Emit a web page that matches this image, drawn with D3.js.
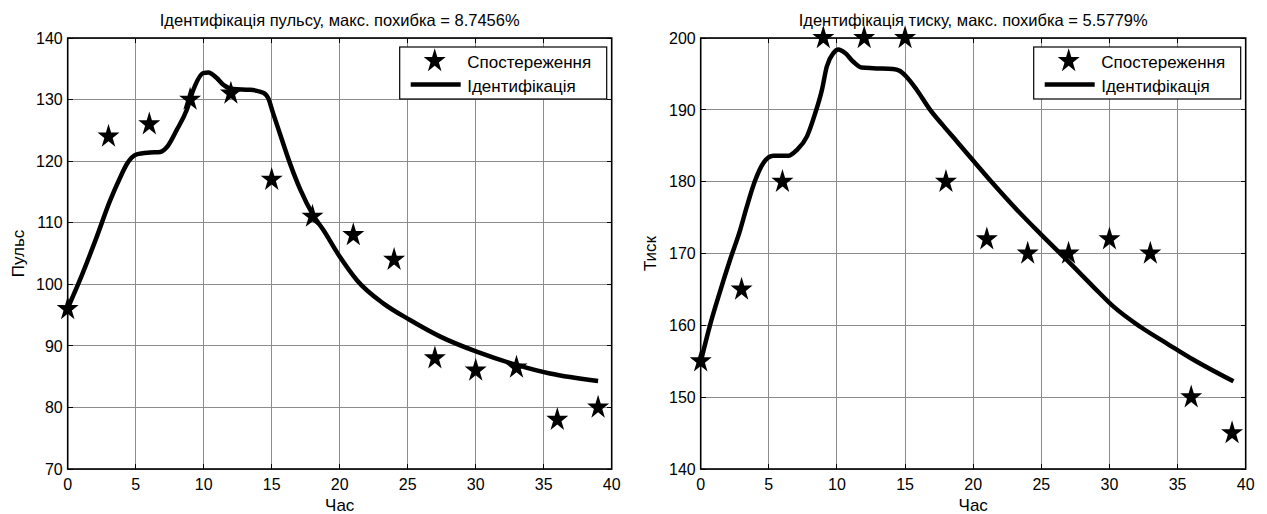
<!DOCTYPE html>
<html>
<head>
<meta charset="utf-8">
<script src="https://cdn.jsdelivr.net/npm/d3@7"></script>
<style>
  html, body { margin: 0; padding: 0; background: #fff; }
  svg { display: block; }
  text { font-family: "Liberation Sans", Arial, sans-serif; fill: #000; }
</style>
</head>
<body>
<svg id="chart" width="1267" height="514"></svg>
<script>
// Observation times (hours)
const hours = [0, 3, 6, 9, 12, 15, 18, 21, 24, 27, 30, 33, 36, 39];

// Measured pulse and pressure
const pulseObserved    = [96, 124, 126, 130, 131, 117, 111, 108, 104, 88, 86, 86.5, 78, 80];
const pressureObserved = [155, 165, 180, 200, 200, 200, 180, 172, 170, 170, 172, 170, 150, 145];

// Identified model response, pulse
const pulseModelTime = [0, 0.9, 2.1, 3.1, 3.85, 4.34, 5.07, 6.05, 6.8, 7.3, 8.0, 8.75, 9.24, 9.97,
  10.34, 10.96, 11.44, 12.18, 13.4, 14.38, 14.75, 15.1, 15.6, 16.35, 17.08, 18.06, 18.8, 20.0,
  21.25, 23.2, 25.17, 27.4, 30.07, 33.0, 35.46, 39.0];
const pulseModel = [96.1, 100.7, 107.5, 113.5, 117.3, 119.5, 121.1, 121.4, 121.5, 122.3, 125, 128.3,
  131.6, 134.3, 134.4, 133.5, 132.4, 131.7, 131.6, 131.1, 130.2, 127.8, 124.5, 119.6, 115.5, 111.2,
  108.8, 104.5, 100.7, 96.9, 94.2, 91.5, 89.05, 86.9, 85.5, 84.3];

// Identified model response, pressure
const pressureModelTime = [0, 0.68, 1.4, 2.15, 2.9, 3.38, 4.0, 4.6, 5.33, 6.43, 7.05, 7.8, 8.4, 8.9,
  9.25, 9.74, 10.1, 10.6, 11.2, 11.8, 12.66, 14.1, 14.63, 15.1, 15.85, 16.8, 17.8, 18.8, 21.24,
  23.2, 24.9, 26.87, 28.8, 30.3, 32.26, 34.2, 36.17, 39.1];
const pressureModel = [154.9, 160.0, 164.6, 169.1, 173.3, 176.5, 180.2, 182.6, 183.6, 183.6, 184.4,
  186.3, 189.5, 192.8, 196.0, 197.9, 198.4, 197.9, 196.7, 195.9, 195.8, 195.7, 195.4, 194.6, 192.8,
  190.1, 187.8, 185.6, 180.2, 176.1, 172.8, 169.1, 165.4, 162.6, 159.8, 157.5, 155.2, 152.2];

// Tick values
const timeTicks = [0, 5, 10, 15, 20, 25, 30, 35, 40];
const pulseTicks = [70, 80, 90, 100, 110, 120, 130, 140];
const pressureTicks = [140, 150, 160, 170, 180, 190, 200];

// Text
const legendLabels = ["Спостереження", "Ідентифікація"];
const timeLabel = "Час";
const pulseTitle = "Ідентифікація пульсу, макс. похибка = 8.7456%";
const pressureTitle = "Ідентифікація тиску, макс. похибка = 5.5779%";

const svg = d3.select("#chart");
svg.append("rect").attr("width", 1267).attr("height", 514).attr("fill", "#fff");

const TICK_FONT = 16, TITLE_FONT = 16.5, LABEL_FONT = 17, LEGEND_FONT = 17;
const TOP = 38, BOTTOM = 469;
// pentagram marker, slightly taller than wide
const starGen = d3.symbol().type(d3.symbolStar).size(150);
const STAR_SCALE = "scale(1,1.1)";

function panel(opts) {
  const g = svg.append("g");
  const x = d3.scaleLinear().domain([0, 40]).range([opts.left, opts.right]);
  const y = d3.scaleLinear().domain(opts.yDomain).range([BOTTOM, TOP]);

  // grid
  const grid = g.append("g").attr("stroke", "#8c8c8c").attr("stroke-width", 1).attr("shape-rendering", "crispEdges");
  grid.selectAll("line.vx").data(opts.xTicks).join("line")
    .attr("x1", d => x(d)).attr("x2", d => x(d)).attr("y1", TOP).attr("y2", BOTTOM);
  grid.selectAll("line.hy").data(opts.yTicks).join("line")
    .attr("x1", opts.left).attr("x2", opts.right).attr("y1", d => y(d)).attr("y2", d => y(d));

  // inner tick marks on all four sides
  const ticks = g.append("g").attr("stroke", "#000").attr("stroke-width", 1).attr("shape-rendering", "crispEdges");
  ticks.selectAll("line.b").data(opts.xTicks).join("line")
    .attr("x1", d => x(d)).attr("x2", d => x(d)).attr("y1", BOTTOM).attr("y2", BOTTOM - 5);
  ticks.selectAll("line.t").data(opts.xTicks).join("line")
    .attr("x1", d => x(d)).attr("x2", d => x(d)).attr("y1", TOP).attr("y2", TOP + 5);
  ticks.selectAll("line.l").data(opts.yTicks).join("line")
    .attr("x1", opts.left).attr("x2", opts.left + 5).attr("y1", d => y(d)).attr("y2", d => y(d));
  ticks.selectAll("line.r").data(opts.yTicks).join("line")
    .attr("x1", opts.right).attr("x2", opts.right - 5).attr("y1", d => y(d)).attr("y2", d => y(d));

  // box
  g.append("rect").attr("x", opts.left).attr("y", TOP)
    .attr("width", opts.right - opts.left).attr("height", BOTTOM - TOP)
    .attr("fill", "none").attr("stroke", "#000").attr("stroke-width", 1.6);

  // tick labels
  g.selectAll("text.xt").data(opts.xTicks).join("text")
    .attr("x", d => x(d)).attr("y", 490).attr("text-anchor", "middle")
    .attr("font-size", TICK_FONT).text(d => d);
  g.selectAll("text.yt").data(opts.yTicks).join("text")
    .attr("x", opts.left - 5).attr("y", d => y(d) + 5.7).attr("text-anchor", "end")
    .attr("font-size", TICK_FONT).text(d => d);

  // axis labels and title
  g.append("text").attr("x", (opts.left + opts.right) / 2).attr("y", 510.5)
    .attr("text-anchor", "middle").attr("font-size", LABEL_FONT).text(timeLabel);
  g.append("text").attr("transform", `translate(${opts.yLabelX},${(TOP + BOTTOM) / 2}) rotate(-90)`)
    .attr("text-anchor", "middle").attr("font-size", LABEL_FONT).text(opts.yLabel);
  g.append("text").attr("x", (opts.left + opts.right) / 2).attr("y", 25.5)
    .attr("text-anchor", "middle").attr("font-size", TITLE_FONT).text(opts.title);

  // identified model curve
  const line = d3.line().x(d => x(d[0])).y(d => y(d[1])).curve(d3.curveMonotoneX);
  g.append("path").datum(d3.zip(opts.modelTime, opts.model))
    .attr("d", line).attr("fill", "none").attr("stroke", "#000")
    .attr("stroke-width", 4.5).attr("stroke-linejoin", "round");

  // observations
  g.selectAll("path.obs").data(d3.zip(hours, opts.observed)).join("path")
    .attr("transform", d => `translate(${x(d[0])},${y(d[1])}) ${STAR_SCALE}`)
    .attr("d", starGen).attr("fill", "#000");

  // legend
  const lw = 207, lh = 52;
  const lx = opts.right - 5 - lw, ly = 47;
  const lg = g.append("g").attr("transform", `translate(${lx},${ly})`);
  lg.append("rect").attr("width", lw).attr("height", lh).attr("fill", "#fff")
    .attr("stroke", "#000").attr("stroke-width", 1.2);
  lg.append("path").attr("transform", `translate(35,14) ${STAR_SCALE}`).attr("d", starGen).attr("fill", "#000");
  lg.append("line").attr("x1", 11).attr("x2", 61).attr("y1", 37.5).attr("y2", 37.5)
    .attr("stroke", "#000").attr("stroke-width", 4.5);
  lg.append("text").attr("x", 67.5).attr("y", 21).attr("font-size", LEGEND_FONT).text(legendLabels[0]);
  lg.append("text").attr("x", 67.5).attr("y", 45).attr("font-size", LEGEND_FONT).text(legendLabels[1]);
}

panel({
  left: 67.7, right: 611.7, yDomain: [70, 140], xTicks: timeTicks, yTicks: pulseTicks,
  observed: pulseObserved, modelTime: pulseModelTime, model: pulseModel,
  yLabel: "Пульс", yLabelX: 23.5, title: pulseTitle
});
panel({
  left: 700.7, right: 1245.7, yDomain: [140, 200], xTicks: timeTicks, yTicks: pressureTicks,
  observed: pressureObserved, modelTime: pressureModelTime, model: pressureModel,
  yLabel: "Тиск", yLabelX: 655.5, title: pressureTitle
});
</script>
</body>
</html>
